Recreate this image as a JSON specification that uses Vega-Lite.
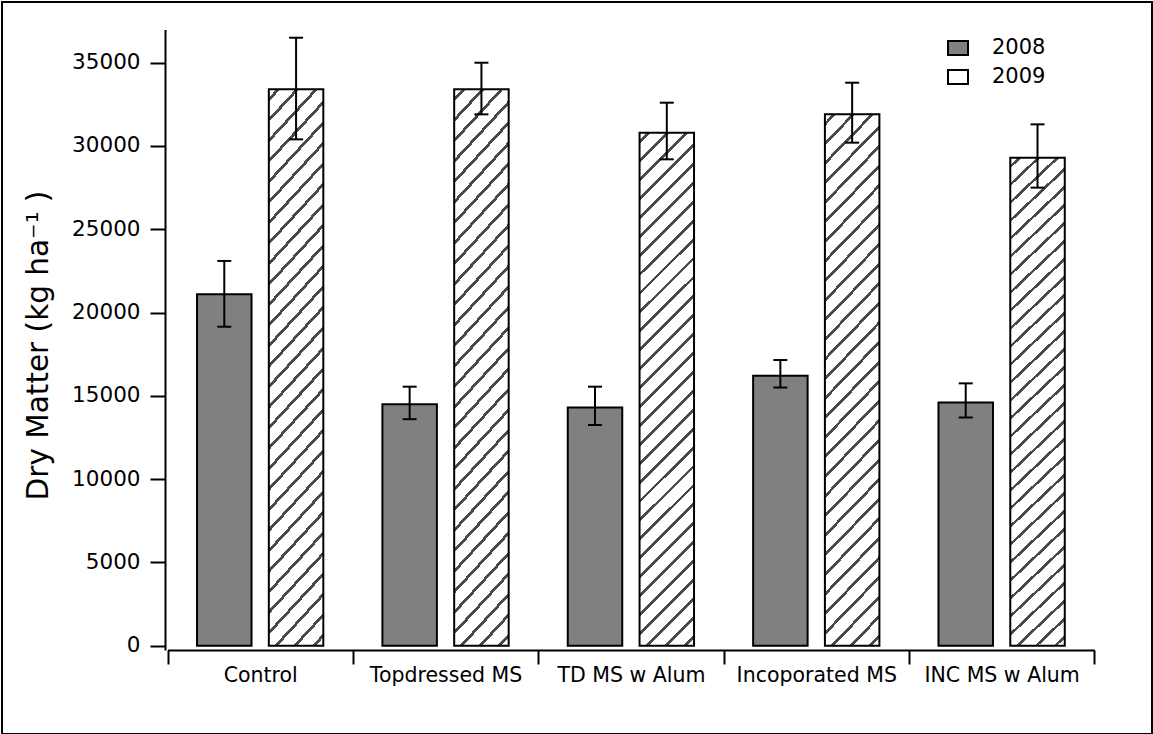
{
  "$schema": "https://vega.github.io/schema/vega-lite/v6.json",
  "width": 1150,
  "height": 732,
  "autosize": {"type": "none"},
  "padding": {"left": 2, "top": 2, "right": 1, "bottom": 0},
  "background": "white",
  "config": {
    "font": "DejaVu Sans",
    "view": {"stroke": "black", "strokeWidth": 2},
    "axis": {
      "domainColor": "black",
      "domainWidth": 2,
      "tickColor": "black",
      "tickWidth": 2,
      "labelColor": "black",
      "titleColor": "black",
      "grid": false
    }
  },
  "data": {
    "values": [
      {"group": "Control", "year": "2008", "dm": 21100, "lo": 19150, "hi": 23100},
      {"group": "Control", "year": "2009", "dm": 33400, "lo": 30400, "hi": 36500},
      {"group": "Topdressed MS", "year": "2008", "dm": 14500, "lo": 13600, "hi": 15550},
      {"group": "Topdressed MS", "year": "2009", "dm": 33400, "lo": 31900, "hi": 35000},
      {"group": "TD MS w Alum", "year": "2008", "dm": 14300, "lo": 13250, "hi": 15550},
      {"group": "TD MS w Alum", "year": "2009", "dm": 30800, "lo": 29200, "hi": 32600},
      {"group": "Incoporated MS", "year": "2008", "dm": 16200, "lo": 15500, "hi": 17150},
      {"group": "Incoporated MS", "year": "2009", "dm": 31900, "lo": 30200, "hi": 33800},
      {"group": "INC MS w Alum", "year": "2008", "dm": 14600, "lo": 13700, "hi": 15750},
      {"group": "INC MS w Alum", "year": "2009", "dm": 29300, "lo": 27500, "hi": 31300}
    ]
  },
  "encoding": {
    "x": {
      "field": "group",
      "type": "nominal",
      "sort": ["Control", "Topdressed MS", "TD MS w Alum", "Incoporated MS", "INC MS w Alum"],
      "scale": {"range": [165.5, 1092.3], "paddingInner": 0, "paddingOuter": 0},
      "axis": {
        "title": null,
        "orient": "bottom",
        "offset": -84,
        "tickBand": "extent",
        "tickSize": 14,
        "labelFontSize": 20.5,
        "labelPadding": 1,
        "labelAngle": 0
      }
    },
    "xOffset": {
      "field": "year",
      "type": "nominal",
      "scale": {"domain": ["2008", "2009"], "paddingInner": 0.241, "paddingOuter": 0.4115}
    }
  },
  "layer": [
    {
      "mark": {"type": "bar", "stroke": "black", "strokeWidth": 2},
      "encoding": {
        "y": {
          "field": "dm",
          "type": "quantitative",
          "title": "Dry Matter (kg ha⁻¹ )",
          "scale": {"domain": [-258, 37000], "range": [648, 27.4], "nice": false, "zero": false},
          "axis": {
            "orient": "left",
            "offset": -163,
            "values": [0, 5000, 10000, 15000, 20000, 25000, 30000, 35000],
            "format": "d",
            "tickSize": 15,
            "labelPadding": 10,
            "labelFontSize": 21.5,
            "titleFontSize": 29.5,
            "titleFontWeight": "normal",
            "titleAngle": 270,
            "titleBaseline": "alphabetic",
            "titleAlign": "center",
            "titleX": -118,
            "titleY": 343
          }
        },
        "y2": {"datum": 0},
        "fill": {
          "field": "year",
          "type": "nominal",
          "scale": {"domain": ["2008", "2009"], "range": ["#808080", "#ffffff"]},
          "condition": {
            "test": "datum.year === '2009'",
            "value": {
              "gradient": "linear",
              "x1": 0, "y1": 0, "x2": 0.1158, "y2": 1.0936,
              "stops": [
                {"offset": 0, "color": "#ffffff"},
                {"offset": 0.0133, "color": "#ffffff"}, {"offset": 0.0133, "color": "#4a4a4a"}, {"offset": 0.0201, "color": "#4a4a4a"}, {"offset": 0.0201, "color": "#ffffff"},
                {"offset": 0.0466, "color": "#ffffff"}, {"offset": 0.0466, "color": "#4a4a4a"}, {"offset": 0.0534, "color": "#4a4a4a"}, {"offset": 0.0534, "color": "#ffffff"},
                {"offset": 0.0799, "color": "#ffffff"}, {"offset": 0.0799, "color": "#4a4a4a"}, {"offset": 0.0867, "color": "#4a4a4a"}, {"offset": 0.0867, "color": "#ffffff"},
                {"offset": 0.1133, "color": "#ffffff"}, {"offset": 0.1133, "color": "#4a4a4a"}, {"offset": 0.1201, "color": "#4a4a4a"}, {"offset": 0.1201, "color": "#ffffff"},
                {"offset": 0.1466, "color": "#ffffff"}, {"offset": 0.1466, "color": "#4a4a4a"}, {"offset": 0.1534, "color": "#4a4a4a"}, {"offset": 0.1534, "color": "#ffffff"},
                {"offset": 0.1799, "color": "#ffffff"}, {"offset": 0.1799, "color": "#4a4a4a"}, {"offset": 0.1867, "color": "#4a4a4a"}, {"offset": 0.1867, "color": "#ffffff"},
                {"offset": 0.2133, "color": "#ffffff"}, {"offset": 0.2133, "color": "#4a4a4a"}, {"offset": 0.2201, "color": "#4a4a4a"}, {"offset": 0.2201, "color": "#ffffff"},
                {"offset": 0.2466, "color": "#ffffff"}, {"offset": 0.2466, "color": "#4a4a4a"}, {"offset": 0.2534, "color": "#4a4a4a"}, {"offset": 0.2534, "color": "#ffffff"},
                {"offset": 0.2799, "color": "#ffffff"}, {"offset": 0.2799, "color": "#4a4a4a"}, {"offset": 0.2867, "color": "#4a4a4a"}, {"offset": 0.2867, "color": "#ffffff"},
                {"offset": 0.3133, "color": "#ffffff"}, {"offset": 0.3133, "color": "#4a4a4a"}, {"offset": 0.3201, "color": "#4a4a4a"}, {"offset": 0.3201, "color": "#ffffff"},
                {"offset": 0.3466, "color": "#ffffff"}, {"offset": 0.3466, "color": "#4a4a4a"}, {"offset": 0.3534, "color": "#4a4a4a"}, {"offset": 0.3534, "color": "#ffffff"},
                {"offset": 0.3799, "color": "#ffffff"}, {"offset": 0.3799, "color": "#4a4a4a"}, {"offset": 0.3867, "color": "#4a4a4a"}, {"offset": 0.3867, "color": "#ffffff"},
                {"offset": 0.4133, "color": "#ffffff"}, {"offset": 0.4133, "color": "#4a4a4a"}, {"offset": 0.4201, "color": "#4a4a4a"}, {"offset": 0.4201, "color": "#ffffff"},
                {"offset": 0.4466, "color": "#ffffff"}, {"offset": 0.4466, "color": "#4a4a4a"}, {"offset": 0.4534, "color": "#4a4a4a"}, {"offset": 0.4534, "color": "#ffffff"},
                {"offset": 0.4799, "color": "#ffffff"}, {"offset": 0.4799, "color": "#4a4a4a"}, {"offset": 0.4867, "color": "#4a4a4a"}, {"offset": 0.4867, "color": "#ffffff"},
                {"offset": 0.5133, "color": "#ffffff"}, {"offset": 0.5133, "color": "#4a4a4a"}, {"offset": 0.5201, "color": "#4a4a4a"}, {"offset": 0.5201, "color": "#ffffff"},
                {"offset": 0.5466, "color": "#ffffff"}, {"offset": 0.5466, "color": "#4a4a4a"}, {"offset": 0.5534, "color": "#4a4a4a"}, {"offset": 0.5534, "color": "#ffffff"},
                {"offset": 0.5799, "color": "#ffffff"}, {"offset": 0.5799, "color": "#4a4a4a"}, {"offset": 0.5867, "color": "#4a4a4a"}, {"offset": 0.5867, "color": "#ffffff"},
                {"offset": 0.6133, "color": "#ffffff"}, {"offset": 0.6133, "color": "#4a4a4a"}, {"offset": 0.6201, "color": "#4a4a4a"}, {"offset": 0.6201, "color": "#ffffff"},
                {"offset": 0.6466, "color": "#ffffff"}, {"offset": 0.6466, "color": "#4a4a4a"}, {"offset": 0.6534, "color": "#4a4a4a"}, {"offset": 0.6534, "color": "#ffffff"},
                {"offset": 0.6799, "color": "#ffffff"}, {"offset": 0.6799, "color": "#4a4a4a"}, {"offset": 0.6867, "color": "#4a4a4a"}, {"offset": 0.6867, "color": "#ffffff"},
                {"offset": 0.7133, "color": "#ffffff"}, {"offset": 0.7133, "color": "#4a4a4a"}, {"offset": 0.7201, "color": "#4a4a4a"}, {"offset": 0.7201, "color": "#ffffff"},
                {"offset": 0.7466, "color": "#ffffff"}, {"offset": 0.7466, "color": "#4a4a4a"}, {"offset": 0.7534, "color": "#4a4a4a"}, {"offset": 0.7534, "color": "#ffffff"},
                {"offset": 0.7799, "color": "#ffffff"}, {"offset": 0.7799, "color": "#4a4a4a"}, {"offset": 0.7867, "color": "#4a4a4a"}, {"offset": 0.7867, "color": "#ffffff"},
                {"offset": 0.8133, "color": "#ffffff"}, {"offset": 0.8133, "color": "#4a4a4a"}, {"offset": 0.8201, "color": "#4a4a4a"}, {"offset": 0.8201, "color": "#ffffff"},
                {"offset": 0.8466, "color": "#ffffff"}, {"offset": 0.8466, "color": "#4a4a4a"}, {"offset": 0.8534, "color": "#4a4a4a"}, {"offset": 0.8534, "color": "#ffffff"},
                {"offset": 0.8799, "color": "#ffffff"}, {"offset": 0.8799, "color": "#4a4a4a"}, {"offset": 0.8867, "color": "#4a4a4a"}, {"offset": 0.8867, "color": "#ffffff"},
                {"offset": 0.9133, "color": "#ffffff"}, {"offset": 0.9133, "color": "#4a4a4a"}, {"offset": 0.9201, "color": "#4a4a4a"}, {"offset": 0.9201, "color": "#ffffff"},
                {"offset": 0.9466, "color": "#ffffff"}, {"offset": 0.9466, "color": "#4a4a4a"}, {"offset": 0.9534, "color": "#4a4a4a"}, {"offset": 0.9534, "color": "#ffffff"},
                {"offset": 0.9799, "color": "#ffffff"}, {"offset": 0.9799, "color": "#4a4a4a"}, {"offset": 0.9867, "color": "#4a4a4a"}, {"offset": 0.9867, "color": "#ffffff"},
                {"offset": 1, "color": "#ffffff"}
              ]
            }
          },
          "legend": {
            "title": null,
            "orient": "none",
            "legendX": 945,
            "legendY": 35,
            "padding": 0,
            "symbolType": "M-1,-0.7H1V0.7H-1Z",
            "symbolSize": 400,
            "symbolStrokeWidth": 2,
            "symbolStrokeColor": "black",
            "labelFontSize": 21,
            "labelColor": "black",
            "labelOffset": 23,
            "rowPadding": 7,
            "encode": {
              "symbols": {
                "update": {
                  "fill": [
                    {
                      "test": "datum.value === '2009'",
                      "value": {
                        "gradient": "linear",
                        "x1": 0, "y1": 0, "x2": 1, "y2": 1,
                        "stops": [
                          {"offset": 0, "color": "#4a4a4a"},
                          {"offset": 0.14, "color": "#4a4a4a"},
                          {"offset": 0.14, "color": "#ffffff"},
                          {"offset": 0.42, "color": "#ffffff"},
                          {"offset": 0.42, "color": "#4a4a4a"},
                          {"offset": 0.58, "color": "#4a4a4a"},
                          {"offset": 0.58, "color": "#ffffff"},
                          {"offset": 0.86, "color": "#ffffff"},
                          {"offset": 0.86, "color": "#4a4a4a"},
                          {"offset": 1, "color": "#4a4a4a"}
                        ]
                      }
                    },
                    {"value": "#808080"}
                  ],
                  "stroke": {"value": "black"},
                  "strokeWidth": {"value": 2}
                }
              }
            }
          }
        }
      }
    },
    {
      "mark": {"type": "rule", "color": "black", "strokeWidth": 2},
      "encoding": {
        "y": {"field": "lo", "type": "quantitative", "title": "Dry Matter (kg ha⁻¹ )"},
        "y2": {"field": "hi"}
      }
    },
    {
      "mark": {"type": "tick", "color": "black", "size": 14, "thickness": 2, "opacity": 1},
      "encoding": {
        "y": {"field": "lo", "type": "quantitative", "title": "Dry Matter (kg ha⁻¹ )"}
      }
    },
    {
      "mark": {"type": "tick", "color": "black", "size": 14, "thickness": 2, "opacity": 1},
      "encoding": {
        "y": {"field": "hi", "type": "quantitative", "title": "Dry Matter (kg ha⁻¹ )"}
      }
    }
  ]
}
